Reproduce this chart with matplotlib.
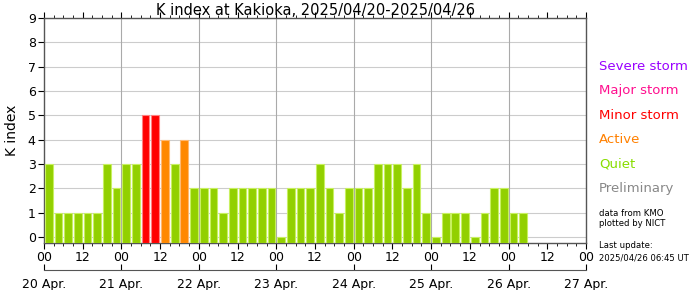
import matplotlib
matplotlib.use("Agg")
import matplotlib.pyplot as plt
from matplotlib.ticker import MultipleLocator

# K index values, 3-hour intervals from 2025/04/20 00 UT
k_values = [
    3, 1, 1, 1, 1, 1, 3, 2,   # 20 Apr
    3, 3, 5, 5, 4, 3, 4, 2,   # 21 Apr
    2, 2, 1, 2, 2, 2, 2, 2,   # 22 Apr
    0, 2, 2, 2, 3, 2, 1, 2,   # 23 Apr
    2, 2, 3, 3, 3, 2, 3, 1,   # 24 Apr
    0, 1, 1, 1, 0, 1, 2, 2,   # 25 Apr
    1, 1,                     # 26 Apr
]
day_labels = ["20 Apr.", "21 Apr.", "22 Apr.", "23 Apr.", "24 Apr.",
              "25 Apr.", "26 Apr.", "27 Apr."]
hour_labels = ["00", "12"]
legend_labels = ["Severe storm", "Major storm", "Minor storm", "Active",
                 "Quiet", "Preliminary"]
legend_colors = ["#9900ff", "#ff0f8f", "#ff0000", "#ff8000", "#88dd00",
                 "#888888"]
legend_levels = [7, 6, 5, 4, 3, 2]


def colors_for(k):
    if k >= 7:
        return "#9900ff", "#c080ff"
    if k == 6:
        return "#ff0f8f", "#ff80c0"
    if k == 5:
        return "#ff0000", "#ff8080"
    if k == 4:
        return "#ff8800", "#ffb870"
    return "#92d000", "#c8f060"


fig = plt.figure(figsize=(7, 2.9), dpi=100)
ax = fig.add_axes([44 / 700, 47 / 290, 542 / 700, 225 / 290])

ymin = -0.25
xs = [3 * i + 1.5 for i in range(len(k_values))]
for x, k in zip(xs, k_values):
    fc, ec = colors_for(k)
    ax.bar(x, k - ymin, bottom=ymin, width=2.4, color=fc, edgecolor=ec,
           linewidth=0.8, zorder=3)

ax.set_xlim(0, 168)
ax.set_ylim(ymin, 9)
ax.set_yticks(range(10))
ax.set_xticks(range(0, 169, 12))
ax.set_xticklabels([hour_labels[(t // 12) % 2] for t in range(0, 169, 12)])
ax.xaxis.set_minor_locator(MultipleLocator(3))
ax.tick_params(axis="x", which="major", top=True, direction="out", length=4,
               labelsize=9, pad=2)
ax.tick_params(axis="x", which="minor", top=True, direction="out", length=2)
ax.tick_params(axis="y", which="major", direction="out", length=4,
               labelsize=9, pad=2)

# grid
for y in range(10):
    ax.axhline(y, color="#cccccc", linewidth=0.8, zorder=1)
for d in range(24, 168, 24):
    ax.axvline(d, color="#aaaaaa", linewidth=0.8, zorder=1)

for s in ax.spines.values():
    s.set_color("#555555")
    s.set_linewidth(1.0)

ax.set_ylabel("K index", fontsize=10, labelpad=6)
ax.set_title("K index at Kakioka, 2025/04/20-2025/04/26", fontsize=10.5,
             pad=2)

# legend text on right
for lab, col, lev in zip(legend_labels, legend_colors, legend_levels):
    ax.text(1.024, (lev - ymin) / (9 - ymin), lab, transform=ax.transAxes,
            color=col, fontsize=9.5, va="center", ha="left")

small = 6.1
fig.text(599 / 700, 1 - 213 / 290, "data from KMO", fontsize=small,
         va="center", ha="left")
fig.text(599 / 700, 1 - 224 / 290, "plotted by NICT", fontsize=small,
         va="center", ha="left")
fig.text(599 / 700, 1 - 246 / 290, "Last update:", fontsize=small,
         va="center", ha="left")
fig.text(599 / 700, 1 - 258 / 290, "2025/04/26 06:45 UT", fontsize=small,
         va="center", ha="left")

# date axis
ax2 = fig.add_axes([44 / 700, 20 / 290, 542 / 700, 0.0001])
ax2.set_xlim(0, 168)
ax2.set_yticks([])
for side in ["top", "left", "right"]:
    ax2.spines[side].set_visible(False)
ax2.spines["bottom"].set_color("#555555")
ax2.set_xticks(range(0, 169, 24))
ax2.set_xticklabels(day_labels)
ax2.tick_params(axis="x", direction="in", length=4, labelsize=9, pad=6)
ax2.patch.set_visible(False)

fig.savefig("out.png", dpi=100)
